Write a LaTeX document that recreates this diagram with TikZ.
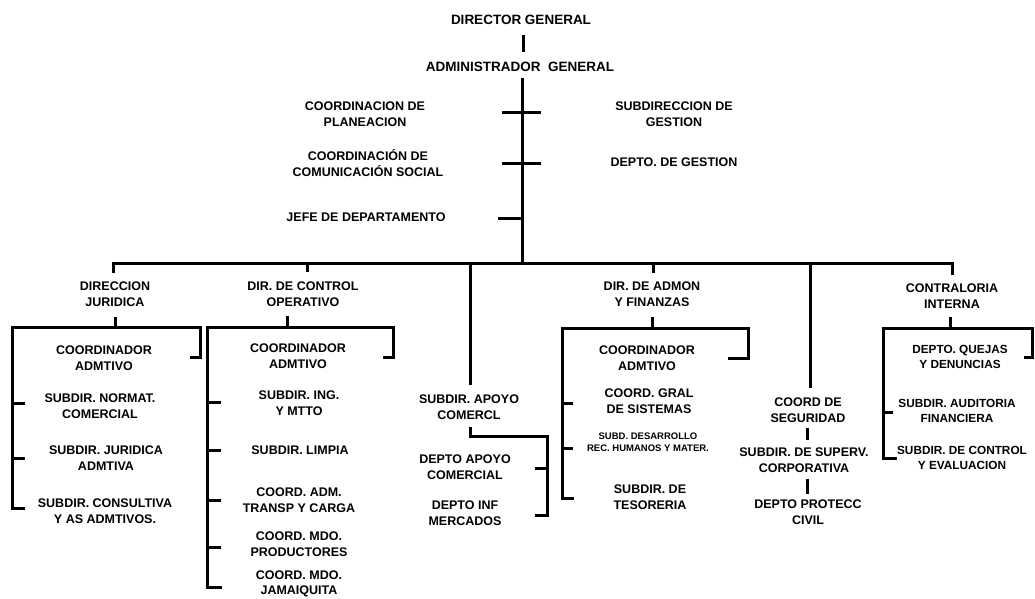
\documentclass[tikz,border=0pt]{standalone}
\usepackage{fontspec}
\setmainfont{Liberation Sans}
\tikzset{
  big/.style={font=\fontsize{13.5}{15.5}\selectfont\bfseries, align=center, inner sep=0pt},
  lbl/.style={font=\fontsize{12.5}{15.5}\selectfont\bfseries, align=center, inner sep=0pt},
  nar/.style={font=\fontsize{11.8}{14.5}\selectfont\bfseries, align=center, inner sep=0pt},
  sml/.style={font=\fontsize{9.5}{12}\selectfont\bfseries, align=center, inner sep=0pt},
  ln/.style={line width=3pt, line join=miter, line cap=butt}
}
\begin{document}
\begin{tikzpicture}[x=1pt,y=-1pt]
\useasboundingbox[fill=white] (0,0) rectangle (1035,599);

% ---- top ----
\node[big] (dg) at (521,20) {DIRECTOR GENERAL};
\node[big] (ag) at (520,67) {ADMINISTRADOR\ \ GENERAL};
\node[lbl] (cp) at (365,114) {COORDINACION DE\\PLANEACION};
\node[lbl] (sg) at (674,114) {SUBDIRECCION DE\\GESTION};
\node[lbl] (ccs) at (368,163) {COORDINACIÓN DE\\COMUNICACIÓN SOCIAL};
\node[lbl] (dgs) at (674,162) {DEPTO. DE GESTION};
\node[lbl] (jd) at (366,217) {JEFE DE DEPARTAMENTO};

\coordinate (dgb) at (523,35);
\coordinate (agt) at (523,52);
\draw[ln] (dgb) -- (agt);

\coordinate (spT) at (522,78);
\coordinate (spB) at (522,263);
\draw[ln] (spT) -- (spB);
\draw[ln] (502,113) -- (541,113);
\draw[ln] (502,163) -- (541,163);
\draw[ln] (498,218) -- (spB |- 0,218);

% ---- bus ----
\coordinate (busL) at (113,263);
\coordinate (busR) at (952,263);
\draw[ln] (113,273) -- (busL) -- (busR) -- (952,275);
\draw[ln] (307,263) -- (307,272);
\draw[ln] (653,263) -- (653,273);
\draw[ln] (470,263) -- (470,385);
\draw[ln] (810,263) -- (810,388);

% ---- heads ----
\node[lbl] (dj)  at (115,294) {DIRECCION\\JURIDICA};
\node[lbl] (dco) at (303,294) {DIR. DE CONTROL\\OPERATIVO};
\node[lbl] (sac) at (469,407) {SUBDIR. APOYO\\COMERCL};
\node[lbl] (daf) at (652,294) {DIR. DE ADMON\\Y FINANZAS};
\node[lbl] (cs)  at (808,410) {COORD DE\\SEGURIDAD};
\node[lbl] (ci)  at (952,296) {CONTRALORIA\\INTERNA};

% ---- column 1 ----
\node[lbl] (c1a) at (104,358) {COORDINADOR\\ADMTIVO};
\node[lbl] (c1b) at (100,406) {SUBDIR. NORMAT.\\COMERCIAL};
\node[lbl] (c1c) at (106,458) {SUBDIR. JURIDICA\\ADMTIVA};
\node[lbl] (c1d) at (105,511) {SUBDIR. CONSULTIVA\\Y AS ADMTIVOS.};
\draw[ln] (115,317) -- (115,327);
\draw[ln] (25,508) -- (12,508) -- (12,327) -- (200,327) -- (200,357) -- (190,357);
\draw[ln] (12,403) -- (25,403);
\draw[ln] (12,458) -- (25,458);

% ---- column 2 ----
\node[lbl] (c2a) at (298,356) {COORDINADOR\\ADMTIVO};
\node[lbl] (c2b) at (299,403) {SUBDIR. ING.\\Y MTTO};
\node[lbl] (c2c) at (300,450) {SUBDIR. LIMPIA};
\node[lbl] (c2d) at (299,500) {COORD. ADM.\\TRANSP Y CARGA};
\node[lbl] (c2e) at (299,544) {COORD. MDO.\\PRODUCTORES};
\node[lbl] (c2f) at (299,584) {COORD. MDO.\\JAMAIQUITA};
\draw[ln] (287,316) -- (287,327);
\draw[ln] (222,587) -- (207,587) -- (207,327) -- (393,327) -- (393,357) -- (383,357);
\foreach \yy in {402,450,500,547} \draw[ln] (207,\yy) -- (221,\yy);

% ---- column 3 ----
\node[lbl] (c3a) at (465,467) {DEPTO APOYO\\COMERCIAL};
\node[lbl] (c3b) at (465,513) {DEPTO INF\\MERCADOS};
\draw[ln] (470,427) -- (470,436) -- (547,436) -- (547,515) -- (535,515);
\draw[ln] (547,468) -- (535,468);

% ---- column 4 ----
\node[lbl] (c4a) at (647,358) {COORDINADOR\\ADMTIVO};
\node[lbl] (c4b) at (649,401) {COORD. GRAL\\DE SISTEMAS};
\node[sml] (c4c) at (648,442) {SUBD. DESARROLLO\\REC. HUMANOS Y MATER.};
\node[lbl] (c4d) at (650,497) {SUBDIR. DE\\TESORERIA};
\draw[ln] (652,317) -- (652,328);
\draw[ln] (574,498) -- (562,498) -- (562,328) -- (748,328) -- (748,358) -- (728,358);
\draw[ln] (562,403) -- (573,403);
\draw[ln] (562,448) -- (573,448);

% ---- column 5 ----
\node[lbl] (c5a) at (804,460) {SUBDIR. DE SUPERV.\\CORPORATIVA};
\node[lbl] (c5b) at (808,512) {DEPTO PROTECC\\CIVIL};
\draw[ln] (807,428) -- (807,440);
\draw[ln] (807,479) -- (807,494);

% ---- column 6 ----
\node[nar] (c6a) at (960,357) {DEPTO. QUEJAS\\Y DENUNCIAS};
\node[nar] (c6b) at (957,411) {SUBDIR. AUDITORIA\\FINANCIERA};
\node[nar] (c6c) at (962,458) {SUBDIR. DE CONTROL\\Y EVALUACION};
\draw[ln] (950,317) -- (950,328);
\draw[ln] (897,458) -- (883,458) -- (883,328) -- (1032,328) -- (1032,357) -- (1024,357);
\draw[ln] (883,412) -- (893,412);
\end{tikzpicture}
\end{document}
